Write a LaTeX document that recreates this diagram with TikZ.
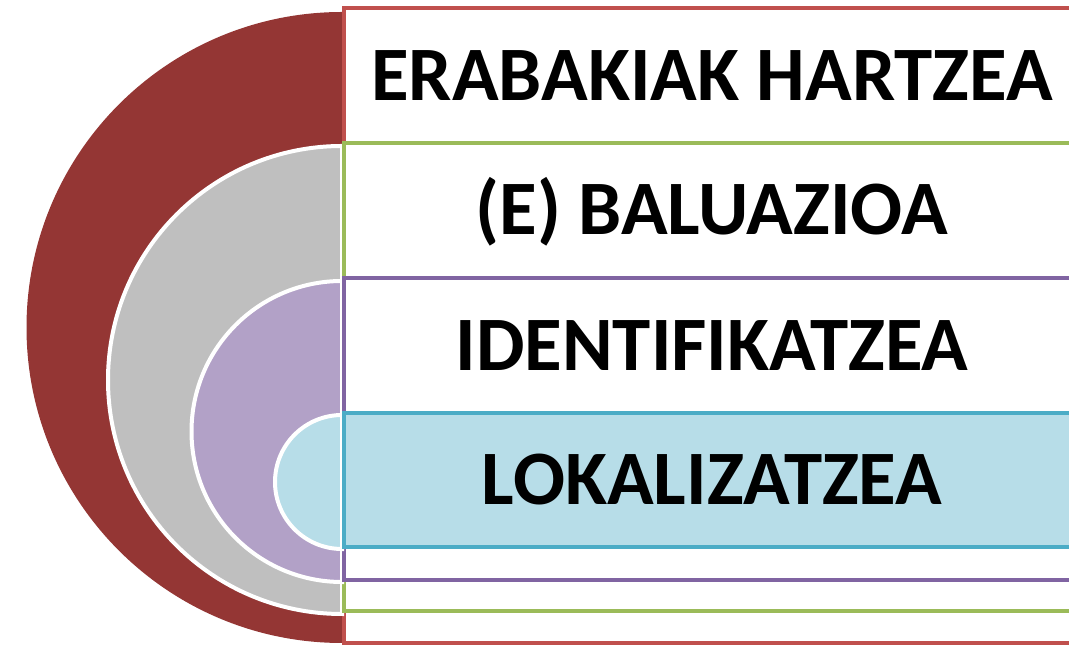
\documentclass[tikz,border=0pt]{standalone}
\usepackage{fontspec}
\setmainfont{Carlito}
\definecolor{rdisc}{HTML}{943634}
\definecolor{rline}{HTML}{C0504D}
\definecolor{gdisc}{HTML}{BFBFBF}
\definecolor{gline}{HTML}{9BBB59}
\definecolor{pdisc}{HTML}{B2A1C7}
\definecolor{pline}{HTML}{8064A2}
\definecolor{bdisc}{HTML}{B7DDE8}
\definecolor{bline}{HTML}{4BACC6}
\tikzset{
  disc/.style={draw=white, line width=4pt},
  band/.style={draw, line width=4pt, inner sep=0pt, anchor=south west},
  lbl/.style={font=\fontsize{77}{80}\selectfont\bfseries, text=black, inner sep=0pt},
}
\begin{document}
\begin{tikzpicture}[x=1pt,y=1pt]
\useasboundingbox (0,0) rectangle (1069,647);
\clip (0,0) rectangle (1069,647);
% red
\fill[rdisc] (342,635) arc[start angle=90,end angle=270,radius=315.5] -- cycle;
\node[band, draw=rline, fill=white, minimum width=740pt, minimum height=635pt] (r1) at (342,2) {};
% gray
\filldraw[disc, fill=gdisc] (342,501) arc[start angle=90,end angle=270,radius=234] -- cycle;
\node[band, draw=gline, fill=white, minimum width=740pt, minimum height=468pt] (r2) at (342,34) {};
% purple
\filldraw[disc, fill=pdisc] (342,366) arc[start angle=90,end angle=270,radius=150.5] -- cycle;
\node[band, draw=pline, fill=white, minimum width=740pt, minimum height=302pt] (r3) at (342,65) {};
% blue
\filldraw[disc, fill=bdisc] (342,232) arc[start angle=90,end angle=270,radius=67] -- cycle;
\node[band, draw=bline, fill=bdisc, minimum width=740pt, minimum height=134pt] (r4) at (342,98) {};
% labels
\node[lbl] (t1) at (712,571) {ERABAKIAK HARTZEA};
\node[lbl] (t2) at (712,435) {(E) BALUAZIOA};
\node[lbl] (t3) at (712,301) {IDENTIFIKATZEA};
\node[lbl] (t4) at (712,167) {LOKALIZATZEA};
\end{tikzpicture}
\end{document}
